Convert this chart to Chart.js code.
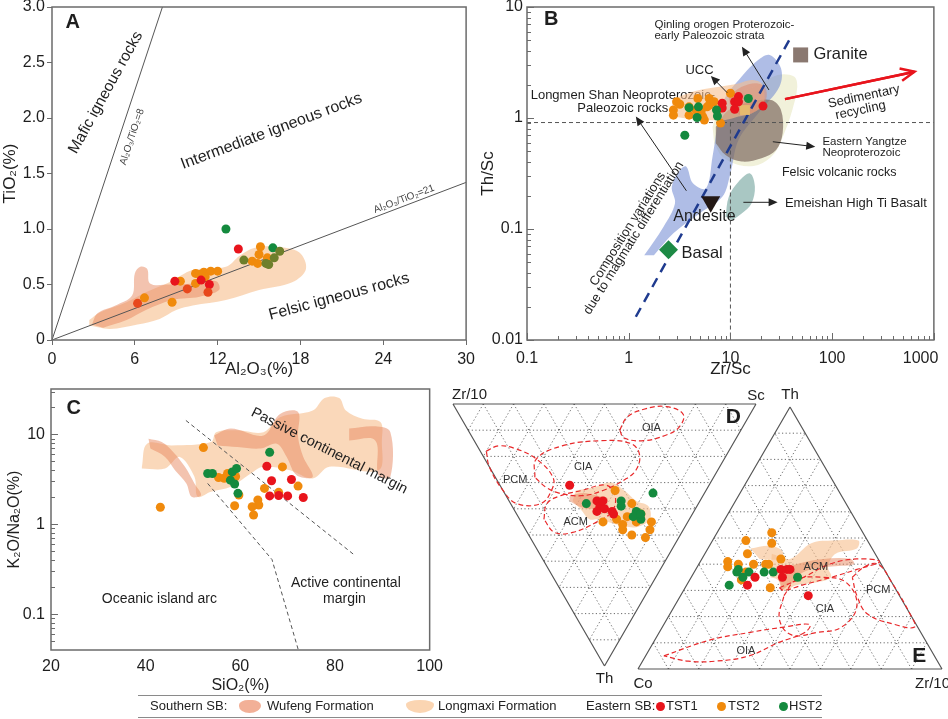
<!DOCTYPE html>
<html>
<head>
<meta charset="utf-8">
<script src="https://cdn.jsdelivr.net/npm/chart.js@4.4.1/dist/chart.umd.min.js"></script>
<style>
  body { margin: 0; background: #fff; width: 948px; height: 719px; position: relative; overflow: hidden;
         font-family: "Liberation Sans", Arial, sans-serif; }
  canvas { position: absolute; }
  #cA { left: 0; top: -10px; }
  #cB { left: 474px; top: -10px; }
  #cC { left: 0; top: 370px; }
  #cD { left: 440px; top: 385px; }
  #cE { left: 620px; top: 385px; }
  .linha { position: absolute; left: 138px; width: 684px; height: 0; border-top: 1.5px solid #8a8a8a; }
  .leg { position: absolute; top: 698px; font-size: 13px; color: #222; line-height: 16px; white-space: nowrap; }
  .blob { position: absolute; top: 700px; height: 13px; }
  .wu { width: 22px; background: #f2b097; border-radius: 45% 40% 55% 50% / 40% 45% 60% 55%; }
  .lo { width: 28px; background: #fbd5b2; border-radius: 50% 50% 50% 50% / 35% 35% 65% 65%; }
  .dot { position: absolute; top: 702px; width: 9px; height: 9px; border-radius: 50%; }
</style>
</head>
<body>
<canvas id="cA" width="480" height="390"></canvas>
<canvas id="cB" width="500" height="390"></canvas>
<canvas id="cC" width="450" height="325"></canvas>
<canvas id="cD" width="330" height="308"></canvas>
<canvas id="cE" width="328" height="308"></canvas>

<div class="linha" style="top:695px"></div>
<div class="linha" style="top:717px"></div>
<span class="leg" style="left:150px">Southern SB:</span>
<i class="blob wu" style="left:239px"></i>
<span class="leg" style="left:267px">Wufeng Formation</span>
<i class="blob lo" style="left:406px"></i>
<span class="leg" style="left:438px">Longmaxi Formation</span>
<span class="leg" style="left:586px">Eastern SB:</span>
<i class="dot" style="left:656px;background:#e8141c"></i>
<span class="leg" style="left:666px">TST1</span>
<i class="dot" style="left:717px;background:#f08a0c"></i>
<span class="leg" style="left:728px">TST2</span>
<i class="dot" style="left:779px;background:#148a3e"></i>
<span class="leg" style="left:789px">HST2</span>

<script>
/* ============================================================
DATA — PANEL A  (Al2O3 %, TiO2 %)
============================================================ */

const aTST1 = [[13.5, 0.82], [8.9, 0.53], [10.8, 0.54], [11.4, 0.5], [9.8, 0.46], [11.3, 0.43], [6.2, 0.33]];
const aTST2 = [[15.1, 0.84], [15.0, 0.77], [15.6, 0.74], [14.5, 0.71], [14.9, 0.69], [10.4, 0.6], [11.0, 0.61],
  [11.5, 0.62], [12.0, 0.62], [10.7, 0.59], [11.1, 0.57], [9.3, 0.53], [10.4, 0.51], [6.7, 0.38], [8.7, 0.34]];
const aHST2 = [[12.6, 1.0], [16.0, 0.83], [16.5, 0.8], [13.9, 0.72], [16.1, 0.74], [15.5, 0.69], [15.7, 0.68]];
const aLongmaxi = [[2.7, 0.13], [4.2, 0.1], [6.2, 0.14], [7.8, 0.19], [9.0, 0.27], [10.2, 0.31], [12.6, 0.36],
  [15.0, 0.45], [17.4, 0.52], [18.4, 0.64], [17.9, 0.79], [16.2, 0.84], [14.7, 0.83], [13.6, 0.76], [12.6, 0.66],
  [10.2, 0.63], [8.5, 0.52], [6.8, 0.43], [5.4, 0.34], [3.5, 0.25], [2.7, 0.18]];
const aWufeng = [[2.9, 0.14], [3.3, 0.24], [4.6, 0.31], [5.8, 0.4], [6.0, 0.6], [6.4, 0.66], [6.9, 0.64], [7.1, 0.51],
  [8.5, 0.5], [10.2, 0.51], [11.9, 0.53], [12.1, 0.45], [10.7, 0.39], [8.7, 0.36], [6.8, 0.27], [5.4, 0.18], [3.7, 0.11]];
const aRatio8 = [[0, 0], [8, 3]];
const aRatio21 = [[0, 0], [30, 1.42]];

/* ============================================================
DATA — PANEL B  (Zr/Sc, Th/Sc)
============================================================ */

const bTST1 = [[8.3, 1.36], [8.3, 1.23], [11.0, 1.4], [11.0, 1.2], [12.0, 1.56], [12.0, 1.4], [20.9, 1.28]];
const bTST2 = [[2.96, 1.4], [2.75, 1.18], [2.75, 1.06], [3.92, 1.06], [3.92, 1.26], [4.78, 1.5], [5.15, 1.14],
  [5.54, 0.96], [6.18, 1.5], [6.18, 1.3], [6.92, 1.4], [5.9, 1.26], [8.0, 0.9], [10.0, 1.67], [7.45, 1.18],
  [4.6, 1.18], [5.35, 1.03], [3.18, 1.33]];
const bHST2 = [[3.56, 0.7], [3.92, 1.24], [4.85, 1.26], [4.7, 1.01], [7.3, 1.18], [7.45, 1.04], [15.0, 1.5]];
const bGranite = [[49, 3.7]];
const bAndesite = [[6.4, 0.176]];
const bBasalt = [[2.46, 0.065]];
const bUCC = [[13.9, 1.18]];
const bMagmatic = [[1.42, 0.058], [2.2, 0.105], [2.85, 0.17], [2.65, 0.24], [3.19, 0.34], [3.69, 0.364], [4.28, 0.258],
  [5.75, 0.232], [6.67, 0.449], [7.45, 0.836], [8.63, 1.45], [12.9, 2.36], [18.7, 3.33], [24.3, 3.7], [31.4, 2.8],
  [30.3, 1.91], [18.7, 1.1], [12.0, 0.634], [10.0, 0.317], [8.32, 0.195], [4.97, 0.138], [2.75, 0.0914], [1.77, 0.058]];
const bFelsic = [[6.67, 0.836], [7.73, 1.18], [10.4, 1.56], [17.4, 1.91], [29.2, 2.44], [42.2, 2.36], [45.4, 1.91],
  [40.6, 1.18], [33.8, 0.728], [27.1, 0.481], [18.7, 0.378], [12.0, 0.378], [8.32, 0.449], [6.92, 0.592]];
const bYangtze = [[7.18, 0.836], [9.64, 1.18], [16.1, 1.4], [25.2, 1.45], [31.4, 1.18], [32.6, 0.728], [28.1, 0.515],
  [20.2, 0.434], [12.9, 0.405], [8.95, 0.465], [7.18, 0.592]];
const bEmeishan = [[8.95, 0.129], [9.64, 0.195], [12.0, 0.267], [15.6, 0.317], [17.4, 0.24], [16.1, 0.17], [12.9, 0.138], [10.4, 0.12]];
const bLongmen = [[2.65, 1.45], [3.43, 1.61], [4.97, 1.79], [7.73, 1.91], [12.0, 2.05], [16.1, 2.2], [20.2, 2.05],
  [21.7, 1.56], [20.2, 1.26], [16.1, 1.1], [12.0, 1.03], [8.95, 0.96], [5.75, 0.96], [3.69, 0.99], [2.75, 1.03]];
const bQinling = [[9.64, 1.56], [12.9, 1.91], [18.7, 2.05], [22.5, 1.79], [21.7, 1.36], [17.4, 1.14], [12.9, 1.06], [10.0, 1.18]];
const bThLimit = [[0.1, 0.91], [1000, 0.91]];
const bZrLimit = [[10, 0.91], [10, 0.01]];
const bTrend = [[1.175, 0.0162], [38.6, 5.2]];
const bRecycling = [[34.4, 1.48], [646, 2.61]];
const bXTicks = [0.1, 1, 10, 100, 1000];
const bYTicks = [0.01, 0.1, 1, 10];

/* ============================================================
DATA — PANEL C  (SiO2 %, K2O/Na2O)
============================================================ */

const cTST1 = [[65.6, 4.43], [66.6, 3.05], [70.8, 3.15], [66.2, 2.07], [68.1, 2.09], [70.0, 2.07], [73.3, 1.99]];
const cTST2 = [[52.2, 7.13], [43.1, 1.55], [55.4, 3.32], [56.6, 3.25], [57.3, 3.68], [59.0, 3.4], [58.8, 1.61],
  [59.7, 2.12], [68.9, 4.35], [65.1, 2.51], [68.1, 2.27], [72.2, 2.66], [63.7, 1.87], [63.9, 1.64], [62.5, 1.57], [62.8, 1.27]];
const cHST2 = [[66.2, 6.32], [53.1, 3.68], [54.1, 3.68], [58.3, 3.83], [59.2, 4.18], [57.9, 3.1], [58.8, 2.81], [59.5, 2.21]];
const cLongmaxi = [[39.2, 4.36], [40.3, 7.89], [45.5, 7.55], [53.8, 8.23], [54.9, 10.6], [59.4, 11.1], [64.9, 10.6],
  [68.4, 15.5], [75.3, 18.4], [77.8, 25.4], [80.9, 25.4], [82.3, 18.4], [85.8, 14.9], [89.6, 13.7], [89.9, 8.58],
  [89.2, 4.0], [78.8, 4.36], [75.3, 3.24], [70.5, 4.0], [64.9, 4.36], [62.2, 3.67], [58.0, 2.62], [53.8, 2.31],
  [51.0, 2.03], [50.3, 3.38], [47.2, 5.62], [44.1, 4.18], [39.2, 4.18]];
const cWufeng1 = [[40.6, 8.96], [43.4, 8.23], [45.8, 6.38], [48.3, 4.36], [50.3, 2.85], [51.7, 2.12], [49.7, 2.03],
  [48.6, 2.85], [46.2, 4.0], [44.1, 5.62], [41.0, 6.95]];
const cWufeng2 = [[54.5, 9.75], [58.0, 11.6], [64.9, 9.75], [68.4, 16.9], [72.2, 17.7], [72.2, 9.35], [73.3, 5.62],
  [75.3, 3.38], [71.9, 3.52], [69.8, 5.62], [67.7, 7.89], [64.2, 6.95], [59.4, 7.24], [55.2, 7.55]];
const cWufeng3 = [[83.0, 11.6], [88.5, 12.3], [91.7, 10.6], [91.7, 3.38], [89.2, 3.52], [88.5, 8.58], [83.0, 8.58]];
const cPassiveLine = [[48.5, 14.3], [84.0, 0.46]];
const cActiveLine = [[53.1, 2.85], [66.7, 0.405], [67.0, 0.356], [72.2, 0.041]];
const cYTicks = [0.1, 1, 10];

/* ============================================================
DATA — PANEL D  ([Zr/10, Th, Sc] in %)
============================================================ */

const dTST1 = [[46, 31, 23], [34, 37, 29], [32, 39, 29], [32, 41, 27], [30, 40, 30], [27, 41, 32], [26, 42, 32], [32, 37, 31]];
const dTST2 = [[30, 33, 37], [22, 38, 40], [28, 45, 27], [24, 44, 32], [21, 46, 33], [20, 48, 32], [21, 43, 36],
  [16, 50, 34], [11, 51, 38], [11, 48, 41], [12, 45, 43], [17, 42, 41], [17, 45, 38]];
const dHST2 = [[17, 34, 49], [37, 38, 25], [26, 37, 37], [25, 39, 36], [19, 41, 40], [19, 43, 38], [16, 44, 40], [17, 42, 41]];
const dLongmaxi = [[43, 33, 24], [38, 32, 30], [33, 30, 37], [27, 33, 40], [21, 37, 42], [16, 39, 45], [13, 44, 43],
  [16, 47, 37], [23, 46, 31], [30, 44, 26], [33, 44, 23], [38, 40, 22], [42, 37, 21]];
const dWufeng = [[44, 35, 21], [40, 34, 26], [35, 35, 30], [31, 36, 33], [31, 39, 30], [35, 40, 25], [39, 39, 22], [43, 37, 20]];
const dOIA = [[40, 10, 50], [40, 5, 55], [36, 2, 62], [29, 1, 70], [22, 4, 74], [21, 9, 70], [24, 12, 64], [30, 14, 56], [37, 13, 50]];
const dCIA = [[59, 28, 13], [62, 21, 17], [56, 16, 28], [44, 14, 42], [34, 15, 51], [29, 19, 52], [27, 25, 48],
  [29, 29, 42], [34, 33, 33], [40, 35, 25], [48, 34, 18], [53, 32, 15]];
const dPCM = [[80, 18, 2], [77, 16, 7], [71, 17, 12], [62, 21, 17], [53, 28, 19], [51, 33, 16], [52, 38, 10],
  [60, 38, 2], [67, 33, 0], [76, 24, 0]];
const dACM = [[48, 44, 8], [50, 38, 12], [47, 35, 18], [41, 33, 26], [34, 31, 35], [29, 35, 36], [27, 41, 32],
  [30, 45, 25], [36, 49, 15], [42, 49, 9]];

/* ============================================================
DATA — PANEL E  ([Th, Co, Zr/10] in %)
============================================================ */

const eTST1 = [[35, 44, 21], [32, 48, 20], [38, 34, 28], [38, 32, 30], [38, 31, 31], [35, 35, 30], [28, 30, 42]];
const eTST2 = [[52, 30, 18], [48, 32, 20], [49, 40, 11], [44, 42, 14], [41, 50, 9], [39, 51, 10], [40, 47, 13],
  [40, 42, 18], [40, 38, 22], [40, 37, 23], [42, 32, 26], [34, 49, 17], [31, 41, 28], [37, 46, 17]];
const eHST2 = [[38, 48, 14], [37, 49, 14], [37, 45, 18], [35, 48, 17], [37, 40, 23], [37, 37, 26], [35, 30, 35], [32, 54, 14]];
const eLongmaxi1 = [[44, 34, 22], [42, 29, 29], [48, 19, 33], [49, 11, 40], [49, 3, 48], [46, 5, 49], [44, 13, 43],
  [39, 18, 43], [35, 19, 46], [33, 25, 42], [32, 32, 36], [30, 37, 33], [34, 37, 29], [35, 39, 26]];
const eLongmaxi2 = [[46, 40, 14], [47, 33, 20], [45, 30, 25], [42, 32, 26], [42, 39, 19]];
const eWufeng = [[37, 35, 28], [40, 28, 32], [42, 18, 40], [42, 9, 49], [40, 9, 51], [39, 18, 43], [37, 27, 36], [31, 36, 33], [30, 38, 32]];
const eACM = [[31, 38, 31], [35, 28, 37], [40, 17, 43], [42, 7, 51], [41, 0, 59], [38, 9, 53], [35, 19, 46], [32, 30, 38], [30, 37, 33]];
const ePCM = [[35, 12, 53], [39, 6, 55], [40, 1, 59], [33, 0, 67], [21, 0, 79], [16, 1, 83], [17, 7, 76], [21, 14, 65], [28, 14, 58]];
const eCIA = [[28, 38, 34], [34, 31, 35], [35, 22, 43], [33, 15, 52], [24, 16, 60], [16, 25, 59], [14, 34, 52], [13, 43, 44], [19, 44, 37]];
const eOIA = [[5, 89, 6], [11, 71, 18], [14, 56, 30], [16, 44, 40], [17, 35, 48], [14, 38, 48], [10, 49, 41], [5, 61, 34], [3, 73, 24], [3, 82, 15]];
const ternGrid = [0.1, 0.2, 0.3, 0.4, 0.5, 0.6, 0.7, 0.8, 0.9];

/* ============================================================
STYLE
============================================================ */

const FONT = '"Liberation Sans", Arial, sans-serif';
const TXT = "#1e1e1e";
const FRAME = "#6b6b6b";
const COR_TST1 = "#e8141c";
const COR_TST2 = "#f08a0c";
const COR_HST2 = "#148a3e";
const FILL_WUFENG = "rgba(232,135,95,0.5)";
const FILL_LONGMAXI = "rgba(247,190,140,0.6)";
const DASH_RED = "#e8282a";
const H = Math.sqrt(3) / 2;

/* ============================================================
HELPERS
============================================================ */

function toXY(list) {
  return list.map((p) => ({ x: p[0], y: p[1] }));
}

function ternD(list) {
  return list.map((p) => ({ x: p[2] / 100 + p[1] / 200, y: (p[1] / 100) * H }));
}

function ternE(list) {
  return list.map((p) => ({ x: p[2] / 100 + p[0] / 200, y: (p[0] / 100) * H }));
}

function fechar(data) {
  return data.concat([data[0]]);
}

function pontos(data, cor, r, estilo) {
  return {
    data,
    backgroundColor: cor,
    borderWidth: 0,
    pointRadius: r || 4.5,
    pointStyle: estilo || "circle",
    order: 0,
    clip: false,
  };
}

function campo(data, cor, order) {
  return {
    data,
    showLine: true,
    fill: "shape",
    backgroundColor: cor,
    borderColor: "rgba(0,0,0,0)",
    borderWidth: 0,
    pointRadius: 0,
    tension: 0.35,
    order: order || 10,
  };
}

function linha(data, cor, width, dash, order) {
  return {
    data,
    showLine: true,
    fill: false,
    borderColor: cor,
    borderWidth: width,
    borderDash: dash || [],
    pointRadius: 0,
    tension: 0,
    order: order || 5,
    clip: false,
  };
}

function tracejado(data) {
  return { ...linha(fechar(data), DASH_RED, 1.2, [5, 3], 4), tension: 0.4 };
}

function opcoesBase(pad) {
  return {
    responsive: false,
    animation: false,
    events: [],
    layout: { padding: pad, autoPadding: false },
    plugins: { legend: { display: false }, tooltip: { enabled: false } },
  };
}

function pix(chart, x, y) {
  return [chart.scales.x.getPixelForValue(x), chart.scales.y.getPixelForValue(y)];
}

function escrever(ctx, txt, x, y, size, opts = {}) {
  ctx.save();
  ctx.translate(x, y);
  if (opts.angle) ctx.rotate((opts.angle * Math.PI) / 180);
  ctx.font = (opts.bold ? "bold " : "") + size + "px " + FONT;
  ctx.fillStyle = opts.color || TXT;
  ctx.textAlign = opts.align || "center";
  ctx.textBaseline = "middle";
  ctx.fillText(txt, 0, 0);
  ctx.restore();
}

function rotulo(chart, txt, x, y, size, opts) {
  const [px, py] = pix(chart, x, y);
  escrever(chart.ctx, txt, px, py, size, opts);
}

function moldura(chart) {
  const a = chart.chartArea;
  const ctx = chart.ctx;
  ctx.save();
  ctx.strokeStyle = FRAME;
  ctx.lineWidth = 1.5;
  ctx.strokeRect(a.left, a.top, a.right - a.left, a.bottom - a.top);
  ctx.restore();
}

function seta(chart, de, para, cor, width, head, aberta) {
  const ctx = chart.ctx;
  const [x1, y1] = pix(chart, de[0], de[1]);
  const [x2, y2] = pix(chart, para[0], para[1]);
  const ang = Math.atan2(y2 - y1, x2 - x1);
  ctx.save();
  ctx.strokeStyle = cor;
  ctx.fillStyle = cor;
  ctx.lineWidth = width;
  ctx.beginPath();
  ctx.moveTo(x1, y1);
  ctx.lineTo(x2 - Math.cos(ang) * (aberta ? 1 : head * 0.8), y2 - Math.sin(ang) * (aberta ? 1 : head * 0.8));
  ctx.stroke();
  const ax = x2 - Math.cos(ang) * head;
  const ay = y2 - Math.sin(ang) * head;
  const nx = -Math.sin(ang) * head * 0.45;
  const ny = Math.cos(ang) * head * 0.45;
  ctx.beginPath();
  ctx.moveTo(ax + nx, ay + ny);
  ctx.lineTo(x2, y2);
  ctx.lineTo(ax - nx, ay - ny);
  if (aberta) {
    ctx.stroke();
  } else {
    ctx.closePath();
    ctx.fill();
  }
  ctx.restore();
}

function menores(valores, min, max) {
  const out = [];
  valores.forEach((d) => {
    for (let k = 2; k <= 9; k++) {
      const v = k * d;
      if (v > min && v < max) out.push(v);
    }
  });
  const abaixo = valores[0] / 10;
  for (let k = 2; k <= 9; k++) {
    if (k * abaixo > min && k * abaixo < valores[0]) out.push(k * abaixo);
  }
  return out;
}

function ticksDentro(chart, eixo, valores, len) {
  const s = chart.scales[eixo];
  const a = chart.chartArea;
  const ctx = chart.ctx;
  ctx.save();
  ctx.strokeStyle = FRAME;
  ctx.lineWidth = 1;
  ctx.beginPath();
  valores.forEach((v) => {
    const p = Math.round(s.getPixelForValue(v)) + 0.5;
    if (eixo === "x") {
      ctx.moveTo(p, a.bottom);
      ctx.lineTo(p, a.bottom - len);
    } else {
      ctx.moveTo(a.left, p);
      ctx.lineTo(a.left + len, p);
    }
  });
  ctx.stroke();
  ctx.restore();
}

function gradeTernaria(chart) {
  const ctx = chart.ctx;
  const seg = (x1, y1, x2, y2) => {
    const [a, b] = pix(chart, x1, y1);
    const [c, d] = pix(chart, x2, y2);
    ctx.moveTo(a, b);
    ctx.lineTo(c, d);
  };
  ctx.save();
  ctx.strokeStyle = "#444";
  ctx.lineWidth = 0.8;
  ctx.setLineDash([1.2, 2.4]);
  ctx.beginPath();
  ternGrid.forEach((f) => {
    seg(f / 2, f * H, 1 - f / 2, f * H);
    seg(f, 0, f + (1 - f) / 2, (1 - f) * H);
    seg(1 - f, 0, (1 - f) / 2, (1 - f) * H);
  });
  ctx.stroke();
  ctx.setLineDash([]);
  ctx.strokeStyle = "#555";
  ctx.lineWidth = 1.2;
  ctx.beginPath();
  seg(0, 0, 1, 0);
  seg(1, 0, 0.5, H);
  seg(0.5, H, 0, 0);
  ctx.stroke();
  ctx.restore();
}

const fonteTick = { family: FONT, size: 16 };
const fonteTitulo = { family: FONT, size: 17 };
const semGrade = { display: false, drawTicks: false };

/* ============================================================
PANEL A
============================================================ */

new Chart(document.getElementById("cA"), {
  type: "scatter",
  data: {
    datasets: [
      {
        ...pontos(toXY(aHST2), COR_HST2),
        backgroundColor: (c) => (c.raw && c.raw.y > 0.82 ? COR_HST2 : "#6e7f2c"),
      },
      {
        ...pontos(toXY(aTST1), COR_TST1),
        backgroundColor: (c) => (c.raw && c.raw.y < 0.5 ? "#e8481c" : COR_TST1),
      },
      { ...pontos(toXY(aTST2), COR_TST2), order: 1 },
      linha(toXY(aRatio8), "#555", 1),
      linha(toXY(aRatio21), "#555", 1),
      campo(toXY(aWufeng), FILL_WUFENG, 10),
      campo(toXY(aLongmaxi), FILL_LONGMAXI, 11),
    ],
  },
  options: {
    ...opcoesBase({ top: 17, right: 12, left: 0, bottom: 0 }),
    scales: {
      x: {
        type: "linear", min: 0, max: 30,
        afterFit: (s) => { s.height = 40; },
        ticks: { stepSize: 6, font: fonteTick, color: TXT, padding: 5, maxRotation: 0 },
        grid: { drawOnChartArea: false, tickLength: 5, color: FRAME },
        border: { display: false },
        title: { display: true, text: "Al₂O₃(%)", font: fonteTitulo, color: TXT, padding: 0 },
      },
      y: {
        type: "linear", min: 0, max: 3,
        afterFit: (s) => { s.width = 52; },
        ticks: { stepSize: 0.5, font: fonteTick, color: TXT, padding: 2, callback: (v) => (v === 0 ? "0" : v.toFixed(1)) },
        grid: { drawOnChartArea: false, tickLength: 5, color: FRAME },
        border: { display: false },
        title: { display: true, text: "TiO₂(%)", font: fonteTitulo, color: TXT, padding: 0 },
      },
    },
  },
  plugins: [
    {
      id: "decoA",
      afterDatasetsDraw(chart) {
        moldura(chart);
        rotulo(chart, "A", 1.5, 2.86, 20, { bold: true });
        rotulo(chart, "Mafic igneous rocks", 3.9, 2.23, 15.5, { angle: -61 });
        rotulo(chart, "Al₂O₃/TiO₂=8", 5.8, 1.83, 10, { angle: -71.6, color: "#444" });
        rotulo(chart, "Intermediate igneous rocks", 15.9, 1.88, 16, { angle: -20.5 });
        rotulo(chart, "Al₂O₃/TiO₂=21", 25.5, 1.27, 10, { angle: -20.7, color: "#444" });
        rotulo(chart, "Felsic igneous rocks", 20.8, 0.39, 16, { angle: -15 });
      },
    },
  ],
});

/* ============================================================
PANEL B
============================================================ */

new Chart(document.getElementById("cB"), {
  type: "scatter",
  data: {
    datasets: [
      pontos(toXY(bHST2), COR_HST2),
      pontos(toXY(bTST1), COR_TST1),
      { ...pontos(toXY(bTST2), COR_TST2), order: 1 },
      { ...pontos(toXY(bGranite), "#8a7870", 10.6, "rect"), order: 2 },
      { ...pontos(toXY(bAndesite), "#231816", 11, "triangle"), rotation: 180, order: 2 },
      { ...pontos(toXY(bBasalt), "#1d8a45", 9.5, "rectRot"), order: 2 },
      { ...pontos(toXY(bUCC), "rgba(232,190,110,0.9)", 7, "rect"), order: 2 },
      linha(toXY(bTrend), "#1f3b8f", 2.5, [10, 7], 3),
      linha(toXY(bThLimit), "#555", 1, [4, 3], 4),
      linha(toXY(bZrLimit), "#555", 1, [4, 3], 4),
      linha(toXY(bRecycling), "#e8141c", 2.5, [], 4),
      campo(toXY(bQinling), "rgba(225,130,100,0.45)", 10),
      campo(toXY(bLongmen), FILL_LONGMAXI, 11),
      campo(toXY(bEmeishan), "rgba(140,180,175,0.75)", 12),
      campo(toXY(bYangtze), "rgba(125,105,95,0.7)", 12),
      campo(toXY(bMagmatic), "rgba(110,135,210,0.55)", 13),
      campo(toXY(bFelsic), "rgba(236,236,205,0.75)", 14),
    ],
  },
  options: {
    ...opcoesBase({ top: 17, right: 31, left: 0, bottom: 0 }),
    scales: {
      x: {
        type: "logarithmic", min: 0.1, max: 1000,
        afterBuildTicks: (s) => { s.ticks = bXTicks.map((v) => ({ value: v })); },
        afterFit: (s) => { s.height = 40; },
        ticks: {
          font: fonteTick, color: TXT, padding: 9, maxRotation: 0, autoSkip: false,
          // last label kept inside the frame, as in the original
          callback: (v) => (v === 1000 ? "1000\u00a0\u00a0\u00a0\u00a0\u00a0\u00a0" : String(v)),
        },
        grid: semGrade,
        border: { display: false },
        title: { display: true, text: "Zr/Sc", font: fonteTitulo, color: TXT, padding: 0 },
      },
      y: {
        type: "logarithmic", min: 0.01, max: 10,
        afterBuildTicks: (s) => { s.ticks = bYTicks.map((v) => ({ value: v })); },
        afterFit: (s) => { s.width = 53; },
        ticks: { font: fonteTick, color: TXT, padding: 4, autoSkip: false, callback: (v) => String(v) },
        grid: semGrade,
        border: { display: false },
        title: { display: true, text: "Th/Sc", font: fonteTitulo, color: TXT, padding: { top: 4, bottom: 0 } },
      },
    },
  },
  plugins: [
    {
      id: "decoB",
      beforeDatasetsDraw(chart) {
        rotulo(chart, "Longmen Shan Neoproterozoic-", 0.875, 1.59, 13);
        rotulo(chart, "Paleozoic rocks", 0.875, 1.22, 13);
      },
      afterDatasetsDraw(chart) {
        ticksDentro(chart, "x", bXTicks, 7);
        ticksDentro(chart, "x", menores(bXTicks, 0.1, 1000), 4);
        ticksDentro(chart, "y", bYTicks, 7);
        ticksDentro(chart, "y", menores(bYTicks, 0.01, 10), 4);
        moldura(chart);
        seta(chart, [34.4, 1.48], [646, 2.61], "#e8141c", 2.5, 14, true);
        seta(chart, [23.9, 1.79], [12.97, 4.39], "#222", 1, 9, false);
        seta(chart, [9.29, 1.69], [6.42, 2.39], "#222", 1, 9, false);
        seta(chart, [3.69, 0.221], [1.175, 1.03], "#222", 1, 9, false);
        seta(chart, [26.1, 0.611], [68.2, 0.551], "#222", 1, 9, false);
        seta(chart, [13.4, 0.174], [29.1, 0.174], "#222", 1, 9, false);
        rotulo(chart, "B", 0.173, 7.64, 20, { bold: true });
        rotulo(chart, "Qinling orogen Proterozoic-", 1.79, 6.98, 11.5, { align: "left" });
        rotulo(chart, "early Paleozoic strata", 1.79, 5.48, 11.5, { align: "left" });
        rotulo(chart, "UCC", 4.97, 2.7, 13);
        rotulo(chart, "Granite", 65.6, 3.7, 16.5, { align: "left" });
        rotulo(chart, "Sedimentary", 205, 1.56, 13, { angle: -12 });
        rotulo(chart, "recycling", 190, 1.17, 13, { angle: -12 });
        rotulo(chart, "Eastern Yangtze", 80.2, 0.612, 11.5, { align: "left" });
        rotulo(chart, "Neoproterozoic", 80.2, 0.488, 11.5, { align: "left" });
        rotulo(chart, "Felsic volcanic rocks", 32.1, 0.324, 12.5, { align: "left" });
        rotulo(chart, "Emeishan High Ti Basalt", 34.3, 0.17, 13, { align: "left" });
        rotulo(chart, "Andesite", 5.55, 0.129, 16);
        rotulo(chart, "Basal", 3.3, 0.0596, 16.5, { align: "left" });
        rotulo(chart, "Composition variations", 0.98, 0.1, 13, { angle: -58 });
        rotulo(chart, "due to magmatic differentiation", 1.12, 0.083, 13, { angle: -58 });
      },
    },
  ],
});

/* ============================================================
PANEL C
============================================================ */

new Chart(document.getElementById("cC"), {
  type: "scatter",
  data: {
    datasets: [
      pontos(toXY(cHST2), COR_HST2),
      pontos(toXY(cTST1), COR_TST1),
      { ...pontos(toXY(cTST2), COR_TST2), order: 1 },
      linha(toXY(cPassiveLine), "#555", 1, [4, 3], 4),
      linha(toXY(cActiveLine), "#555", 1, [4, 3], 4),
      campo(toXY(cWufeng1), FILL_WUFENG, 10),
      campo(toXY(cWufeng2), FILL_WUFENG, 10),
      campo(toXY(cWufeng3), FILL_WUFENG, 10),
      campo(toXY(cLongmaxi), FILL_LONGMAXI, 11),
    ],
  },
  options: {
    ...opcoesBase({ top: 19, right: 15, left: 0, bottom: 0 }),
    scales: {
      x: {
        type: "linear", min: 20, max: 100,
        afterFit: (s) => { s.height = 45; },
        ticks: { stepSize: 20, font: fonteTick, color: TXT, padding: 7, maxRotation: 0 },
        grid: semGrade,
        border: { display: false },
        title: { display: true, text: "SiO₂(%)", font: { family: FONT, size: 16 }, color: TXT, padding: 0 },
      },
      y: {
        type: "logarithmic", min: 0.04, max: 32,
        afterBuildTicks: (s) => { s.ticks = cYTicks.map((v) => ({ value: v })); },
        afterFit: (s) => { s.width = 51; },
        ticks: { font: fonteTick, color: TXT, padding: 6, autoSkip: false, callback: (v) => String(v) },
        grid: semGrade,
        border: { display: false },
        title: { display: true, text: "K₂O/Na₂O(%)", font: { family: FONT, size: 16 }, color: TXT, padding: { top: 5, bottom: 0 } },
      },
    },
  },
  plugins: [
    {
      id: "decoC",
      afterDatasetsDraw(chart) {
        ticksDentro(chart, "y", cYTicks, 7);
        ticksDentro(chart, "y", menores(cYTicks.concat([100]), 0.04, 32), 4);
        moldura(chart);
        rotulo(chart, "C", 24.8, 19.2, 20, { bold: true });
        rotulo(chart, "Passive continental margin", 78.8, 6.55, 14.5, { angle: 27 });
        rotulo(chart, "Oceanic island arc", 42.9, 0.149, 14);
        rotulo(chart, "Active continental", 82.3, 0.224, 14);
        rotulo(chart, "margin", 82.0, 0.149, 14);
      },
    },
  ],
});

/* ============================================================
PANEL D (inverted ternary)
============================================================ */

new Chart(document.getElementById("cD"), {
  type: "scatter",
  data: {
    datasets: [
      pontos(ternD(dTST1), COR_TST1),
      pontos(ternD(dHST2), COR_HST2),
      { ...pontos(ternD(dTST2), COR_TST2), order: 1 },
      tracejado(ternD(dOIA)),
      tracejado(ternD(dCIA)),
      tracejado(ternD(dPCM)),
      tracejado(ternD(dACM)),
      campo(ternD(dWufeng), FILL_WUFENG, 10),
      campo(ternD(dLongmaxi), FILL_LONGMAXI, 11),
    ],
  },
  options: {
    ...opcoesBase({ top: 19, right: 14, left: 13, bottom: 27 }),
    scales: {
      x: { type: "linear", display: false, min: 0, max: 1 },
      y: { type: "linear", display: false, min: 0, max: H, reverse: true },
    },
  },
  plugins: [
    {
      id: "decoD",
      beforeDatasetsDraw(chart) {
        gradeTernaria(chart);
      },
      afterDatasetsDraw(chart) {
        const ctx = chart.ctx;
        const [zx, zy] = pix(chart, 0, 0);
        const [sx, sy] = pix(chart, 1, 0);
        const [tx, ty] = pix(chart, 0.5, H);
        escrever(ctx, "Zr/10", zx - 1, zy - 9, 15, { align: "left" });
        escrever(ctx, "Sc", sx, sy - 8, 15);
        escrever(ctx, "Th", tx, ty + 13, 15);
        const lab = (t, p, size, opts) => {
          const q = ternD([p])[0];
          rotulo(chart, t, q.x, q.y, size, opts);
        };
        lab("OIA", [30, 9, 61], 11, { color: "#333" });
        lab("CIA", [45, 24, 31], 11, { color: "#333" });
        lab("PCM", [65, 29, 6], 11, { color: "#333" });
        lab("ACM", [37, 45, 18], 11, { color: "#333" });
        lab("D", [5, 5, 90], 21, { bold: true });
      },
    },
  ],
});

/* ============================================================
PANEL E (upright ternary)
============================================================ */

new Chart(document.getElementById("cE"), {
  type: "scatter",
  data: {
    datasets: [
      pontos(ternE(eTST1), COR_TST1),
      pontos(ternE(eHST2), COR_HST2),
      { ...pontos(ternE(eTST2), COR_TST2), order: 1 },
      tracejado(ternE(eACM)),
      tracejado(ternE(ePCM)),
      tracejado(ternE(eCIA)),
      tracejado(ternE(eOIA)),
      campo(ternE(eWufeng), FILL_WUFENG, 10),
      campo(ternE(eLongmaxi1), FILL_LONGMAXI, 11),
      campo(ternE(eLongmaxi2), FILL_LONGMAXI, 11),
    ],
  },
  options: {
    ...opcoesBase({ top: 22, right: 6, left: 18, bottom: 24 }),
    scales: {
      x: { type: "linear", display: false, min: 0, max: 1 },
      y: { type: "linear", display: false, min: 0, max: H },
    },
  },
  plugins: [
    {
      id: "decoE",
      beforeDatasetsDraw(chart) {
        gradeTernaria(chart);
      },
      afterDatasetsDraw(chart) {
        const ctx = chart.ctx;
        const [cx, cy] = pix(chart, 0, 0);
        const [zx, zy] = pix(chart, 1, 0);
        const [tx, ty] = pix(chart, 0.5, H);
        escrever(ctx, "Th", tx, ty - 12, 15);
        escrever(ctx, "Co", cx + 5, cy + 15, 15);
        escrever(ctx, "Zr/10", zx - 27, zy + 15, 15, { align: "left" });
        const lab = (t, p, size, opts) => {
          const q = ternE([p])[0];
          rotulo(chart, t, q.x, q.y, size, opts);
        };
        lab("ACM", [39, 22, 39], 11, { color: "#333" });
        lab("PCM", [30, 6, 64], 11, { color: "#333" });
        lab("CIA", [23, 27, 50], 11, { color: "#333" });
        lab("OIA", [7, 61, 32], 11, { color: "#333" });
        lab("E", [5, 5, 90], 21, { bold: true });
      },
    },
  ],
});
</script>
</body>
</html>
